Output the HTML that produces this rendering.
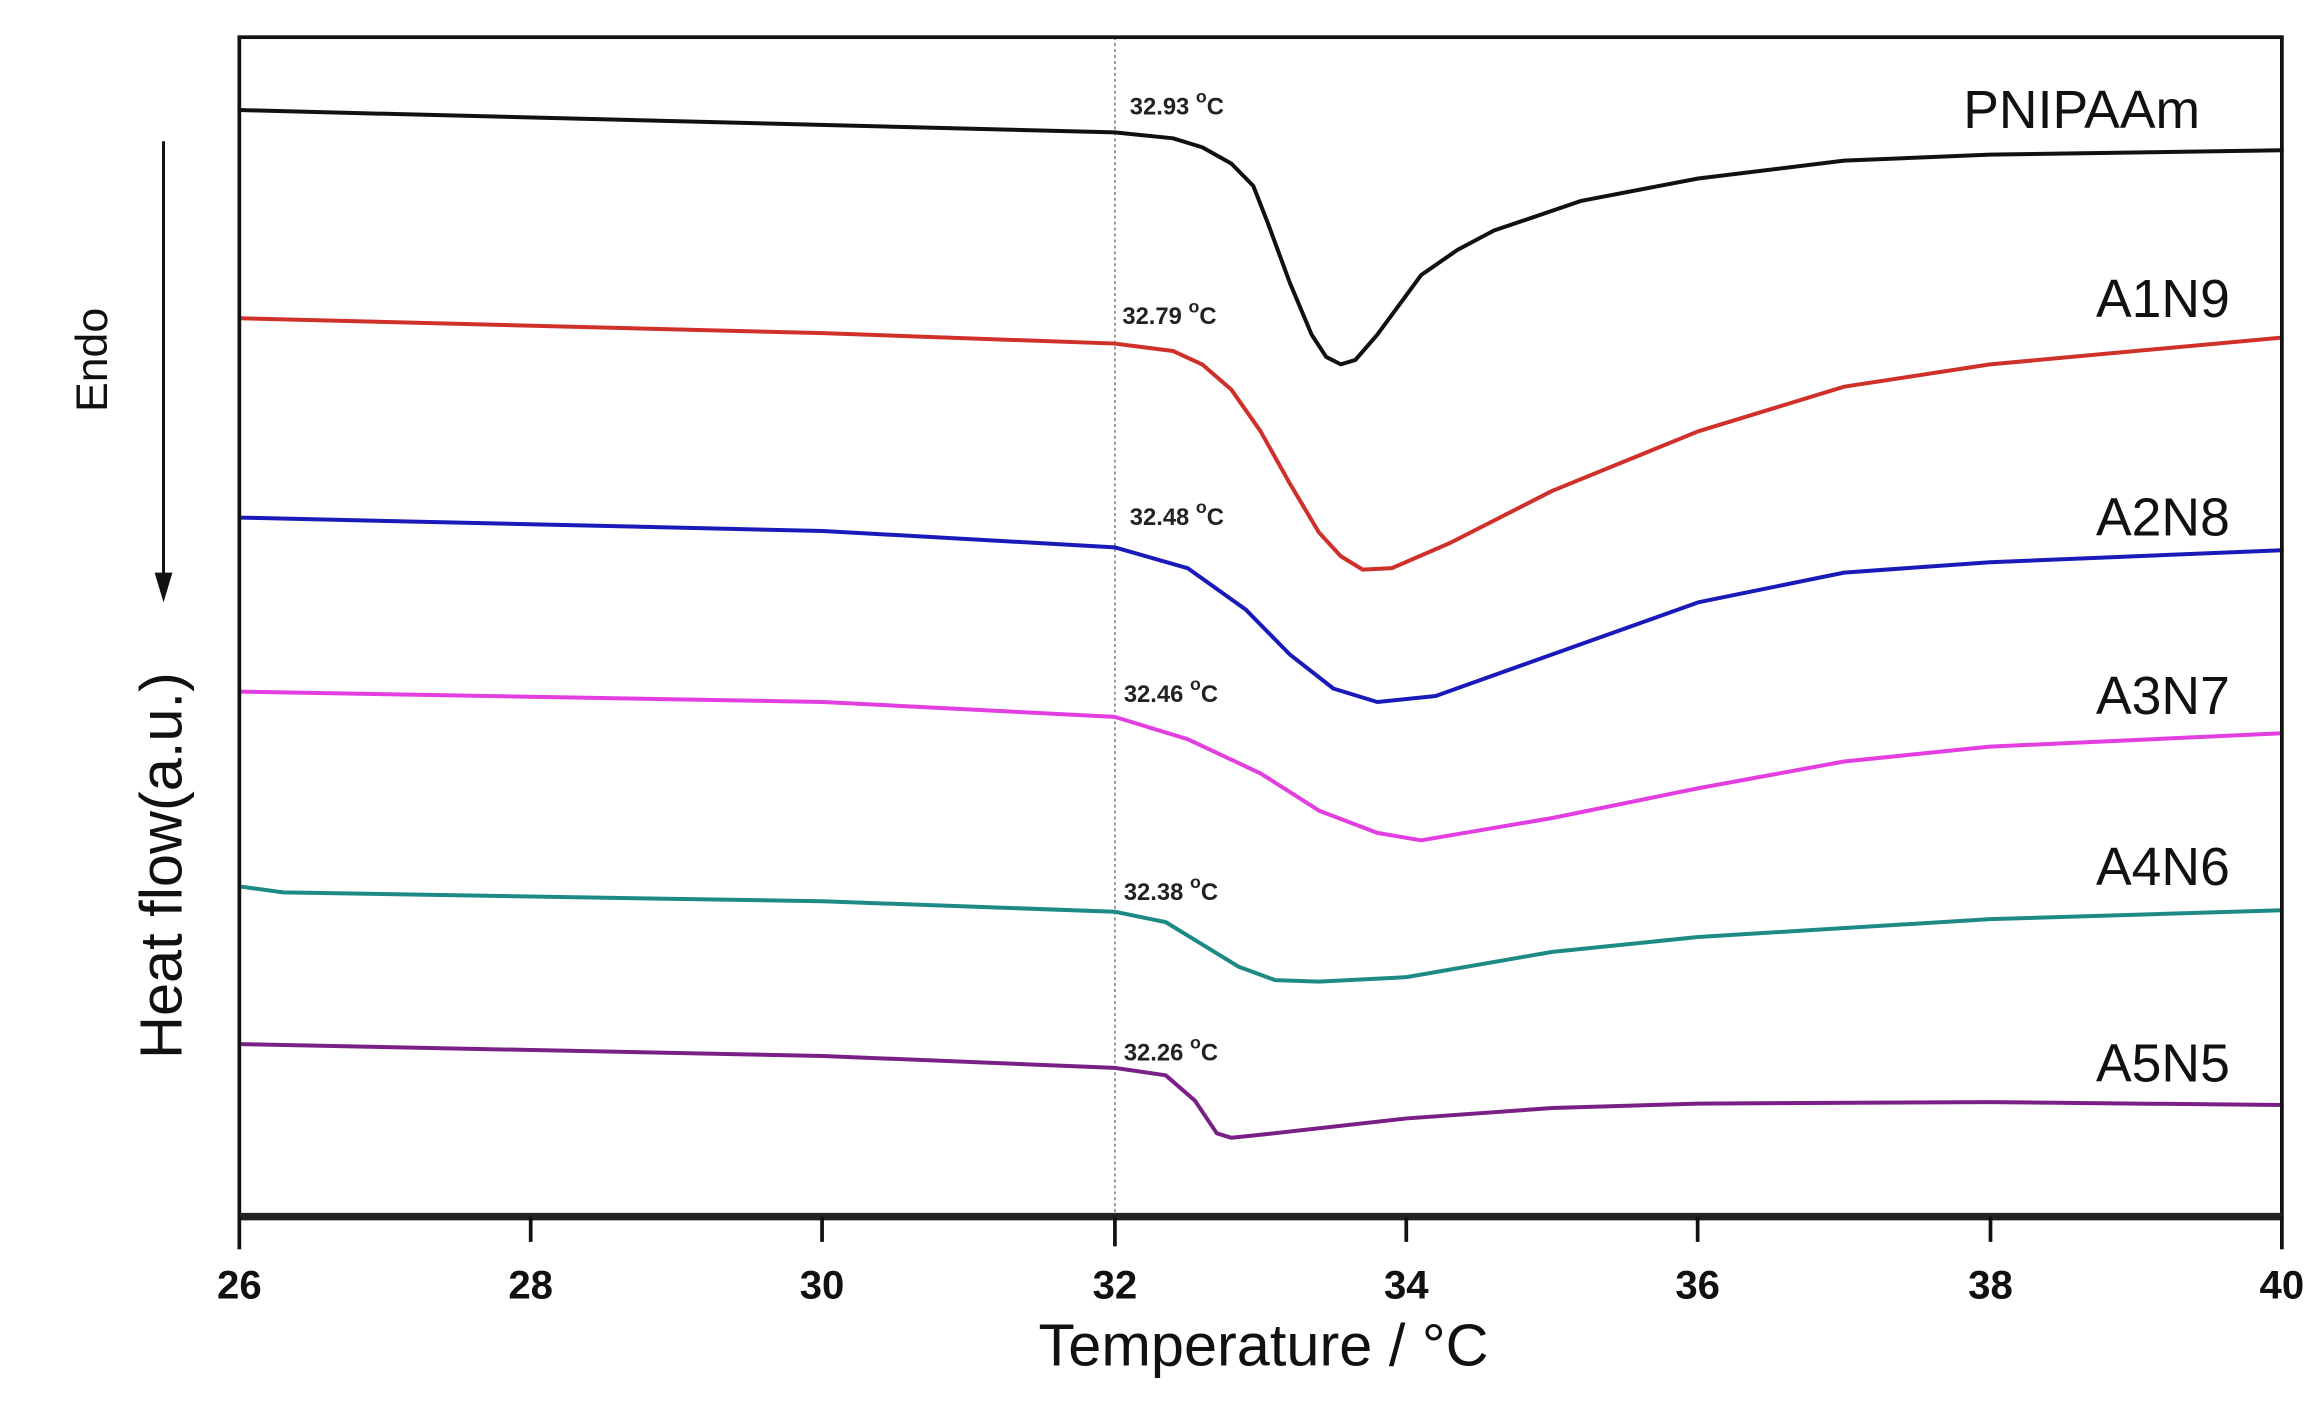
<!DOCTYPE html>
<html><head><meta charset="utf-8"><style>html,body{margin:0;padding:0;background:#fff}svg{display:block}</style></head>
<body>
<svg width="2322" height="1404" viewBox="0 0 1562 944" preserveAspectRatio="none" xmlns="http://www.w3.org/2000/svg" font-family="Liberation Sans, Arial, sans-serif">
<rect width="1562" height="944" fill="#fff"/>
<line x1="750" y1="25" x2="750" y2="818" stroke="#777" stroke-width="1" stroke-dasharray="2,2"/>
<g fill="none" stroke-width="4" stroke-linejoin="round" stroke-linecap="round" transform="translate(161,0) scale(98.14,1)">
<polyline vector-effect="non-scaling-stroke" stroke="#111" points="0,74 6,89 6.4,93 6.6,99 6.8,110 6.95,125 7.05,150 7.2,190 7.35,225 7.45,240 7.55,245 7.65,242 7.8,225 7.95,205 8.1,185 8.35,168 8.6,155 9.2,135 10,120 11,108 12,104 14,101"/>
<polyline vector-effect="non-scaling-stroke" stroke="#d0302a" points="0,214 4,224 6,231 6.4,236 6.6,245 6.8,262 7.0,290 7.2,325 7.4,358 7.55,374 7.7,383 7.9,382 8.3,365 9,330 10,290 11,260 12,245 14,227"/>
<polyline vector-effect="non-scaling-stroke" stroke="#1a1aba" points="0,348 4,357 6,368 6.5,382 6.9,410 7.2,440 7.5,463 7.8,472 8.2,468 9,440 10,405 11,385 12,378 14,370"/>
<polyline vector-effect="non-scaling-stroke" stroke="#e23ee0" points="0,465 4,472 6,482 6.5,497 7,520 7.4,545 7.8,560 8.1,565 9,550 10,530 11,512 12,502 14,493"/>
<polyline vector-effect="non-scaling-stroke" stroke="#1e8a86" points="0,596 0.3,600 4,606 6,613 6.35,620 6.6,635 6.85,650 7.1,659 7.4,660 8,657 9,640 10,630 12,618 14,612"/>
<polyline vector-effect="non-scaling-stroke" stroke="#7a1f86" points="0,702 4,710 6,718 6.35,723 6.55,740 6.7,762 6.8,765 7,763 8,752 9,745 10,742 12,741 14,743"/>
</g>
<rect x="161" y="25" width="1374" height="793" fill="none" stroke="#111" stroke-width="2.5"/>
<line x1="161" y1="818" x2="1535" y2="818" stroke="#222" stroke-width="5"/>
<g stroke="#111" stroke-width="2.5">
<line x1="161" y1="818" x2="161" y2="840"/><line x1="357" y1="818" x2="357" y2="835"/><line x1="553" y1="818" x2="553" y2="835"/><line x1="750" y1="818" x2="750" y2="838"/><line x1="946" y1="818" x2="946" y2="835"/><line x1="1142" y1="818" x2="1142" y2="835"/><line x1="1339" y1="818" x2="1339" y2="835"/><line x1="1535" y1="818" x2="1535" y2="840"/>
</g>
<g font-size="27" font-weight="bold" text-anchor="middle" fill="#111">
<text x="161" y="873">26</text><text x="357" y="873">28</text><text x="553" y="873">30</text><text x="750" y="873">32</text><text x="946" y="873">34</text><text x="1142" y="873">36</text><text x="1339" y="873">38</text><text x="1535" y="873">40</text>
</g>
<text x="850" y="918" font-size="40" text-anchor="middle" fill="#111">Temperature / °C</text>
<text transform="translate(122,582) rotate(-90)" font-size="40" text-anchor="middle" fill="#111">Heat flow(a.u.)</text>
<text transform="translate(72,242) rotate(-90)" font-size="30" text-anchor="middle" fill="#111">Endo</text>
<line x1="110" y1="95" x2="110" y2="390" stroke="#111" stroke-width="2"/>
<polygon points="104,385 116,385 110,405" fill="#111"/>
<g font-size="36" text-anchor="end" fill="#111">
<text x="1480" y="86">PNIPAAm</text><text x="1500" y="213">A1N9</text><text x="1500" y="360">A2N8</text><text x="1500" y="480">A3N7</text><text x="1500" y="595">A4N6</text><text x="1500" y="727">A5N5</text>
</g>
<g font-size="16" font-weight="bold" fill="#222">
<text x="760" y="77">32.93 <tspan dy="-8" font-size="12">o</tspan><tspan dy="8">C</tspan></text>
<text x="755" y="218">32.79 <tspan dy="-8" font-size="12">o</tspan><tspan dy="8">C</tspan></text>
<text x="760" y="353">32.48 <tspan dy="-8" font-size="12">o</tspan><tspan dy="8">C</tspan></text>
<text x="756" y="472">32.46 <tspan dy="-8" font-size="12">o</tspan><tspan dy="8">C</tspan></text>
<text x="756" y="605">32.38 <tspan dy="-8" font-size="12">o</tspan><tspan dy="8">C</tspan></text>
<text x="756" y="713">32.26 <tspan dy="-8" font-size="12">o</tspan><tspan dy="8">C</tspan></text>
</g>
</svg>
</body></html>
